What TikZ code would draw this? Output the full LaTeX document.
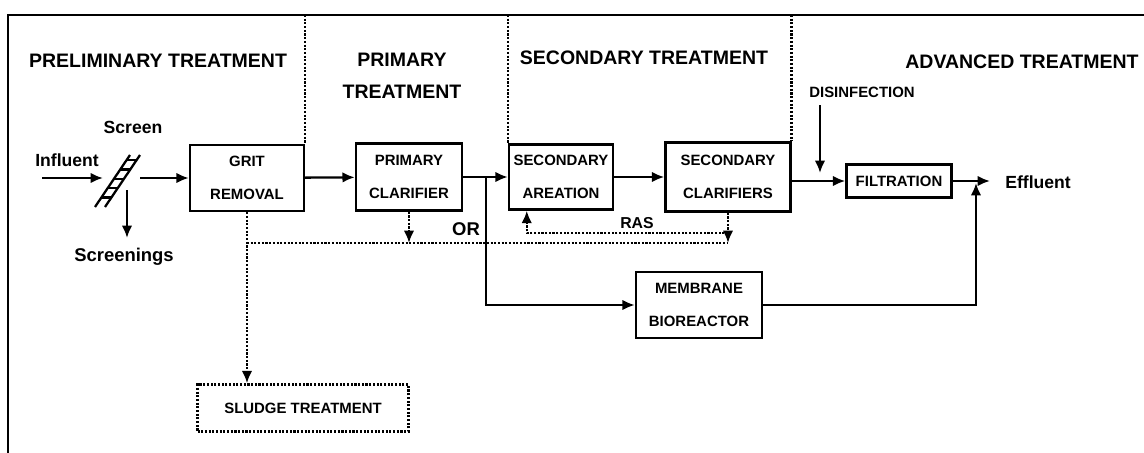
\documentclass[tikz,border=0pt]{standalone}
\usepackage{fontspec}
\setmainfont{Liberation Sans}
\usetikzlibrary{arrows.meta}

\begin{document}
\begin{tikzpicture}[x=0.02cm, y=-0.02cm,
    box/.style={draw, line width=1.4pt, align=center, inner sep=0pt,
        font=\bfseries\fontsize{8.5}{18.5}\selectfont},
    flow/.style={line width=1.3pt, -{Latex[length=7pt,width=6pt]}},
    dotline/.style={line width=1.4pt, dash pattern=on 1.2pt off 0.9pt},
    title/.style={font=\bfseries\fontsize{11.1}{18.2}\selectfont, align=center},
    lbl/.style={font=\bfseries\fontsize{10}{12}\selectfont, inner sep=0pt}]
    \useasboundingbox (0,0) rectangle (1144,453);

    % Marco
    \coordinate (top) at (8,15);
    \draw[line width=1.5pt] (1144,15) -- (top) -- (8,453);

    % Cajas
    \node[box, minimum width=2.28cm, minimum height=1.32cm] (grit) at (247,178) {GRIT\\REMOVAL};
    \node[box, minimum width=2.12cm, minimum height=1.34cm] (prim) at (409,177) {PRIMARY\\CLARIFIER};
    \node[box, minimum width=2.08cm, minimum height=1.30cm] (aer) at (561,177) {SECONDARY\\AREATION};
    \node[box, minimum width=2.50cm, minimum height=1.38cm] (clar) at (728,177) {SECONDARY\\CLARIFIERS};
    \node[box, minimum width=2.10cm, minimum height=0.66cm] (filt) at (899,181) {FILTRATION};
    \node[box, minimum width=2.52cm, minimum height=1.32cm] (mbr) at (699,305) {MEMBRANE\\BIOREACTOR};
    \node[box, dotline, minimum width=4.22cm, minimum height=0.94cm] (sludge) at (303,408) {SLUDGE TREATMENT};

    % Divisiones
    \draw[dotline] (grit.north east |- top) -- (grit.north east);
    \draw[dotline] (aer.north west |- top) -- (aer.north west);
    \draw[dotline] (clar.north east |- top) -- (clar.north east);

    % Titulos
    \node[title] (tprel) at (158,61) {PRELIMINARY TREATMENT};
    \node[title] (tprim) at (402,76) {PRIMARY\\TREATMENT};
    \node[title] (tsec) at (644,58) {SECONDARY TREATMENT};
    \node[title] (tadv) at (1022,62) {ADVANCED TREATMENT};

    % Rejilla
    \draw[line width=1.3pt] (95,207) -- (130,155);
    \draw[line width=1.3pt] (105,207) -- (140,155);
    \foreach \t in {0.18,0.36,0.54,0.72,0.9}
        \draw[line width=1.3pt] (95+35*\t,207-52*\t) -- (105+35*\t,207-52*\t);
    \node[lbl] (screen) at (133,127) {Screen};
    \node[lbl] (infl) at (67,160) {Influent};
    \node[lbl, font=\bfseries\fontsize{10.5}{12}\selectfont] (scrn) at (124,257) {Screenings};
    \coordinate (in0) at (42,178);
    \coordinate (in1) at (103,178);
    \coordinate (scr0) at (127,190);
    \coordinate (scr1) at (127,238);
    \coordinate (out0) at (140,178);
    \draw[flow] (in0) -- (in1);
    \draw[flow] (scr0) -- (scr1);
    \draw[flow] (out0) -- (grit.west);

    % Linea principal
    \coordinate (jor) at (486,177);
    \draw[flow] (grit) -- (prim);
    \draw[flow] (prim) -- (aer);
    \draw[flow] (aer) -- (clar);
    \draw[flow] (jor) |- (mbr.west);
    \draw[flow] (clar.east |- filt) -- (filt.west);
    \node[lbl, font=\bfseries\fontsize{10.5}{12}\selectfont] (or) at (466,229) {OR};

    % Desinfeccion y efluente
    \node[lbl, font=\bfseries\fontsize{8.5}{10}\selectfont] (dis) at (862,92) {DISINFECTION};
    \coordinate (dis0) at (820,105);
    \coordinate (dis1) at (820,173);
    \draw[flow] (dis0) -- (dis1);
    \node[lbl, anchor=west] (eff) at (1005,182) {Effluent};
    \draw[flow, shorten >=0.3cm] (filt.east) -- (filt.east -| eff.west);
    \coordinate (jeff) at (976,183);
    \draw[flow] (mbr.east) -| (jeff);

    % Lodos y RAS
    \coordinate (sl) at (247,243);
    \coordinate (ras) at (728,233);
    \draw[dotline, -{Latex[length=7pt,width=6pt]}] (grit.south) -- (grit.south |- sludge.north);
    \draw[dotline] (grit.south |- sl) -- (clar.south |- sl);
    \draw[dotline, -{Latex[length=7pt,width=6pt]}] (prim.south) -- (prim.south |- sl);
    \draw[dotline, -{Latex[length=7pt,width=6pt]}] (clar.south) -- (clar.south |- sl);
    \draw[dotline, -{Latex[length=7pt,width=6pt]}] (ras) -| ([xshift=0.38cm]aer.south west);
    \node[lbl, font=\bfseries\fontsize{9}{10}\selectfont] (rasl) at (637,223) {RAS};
\end{tikzpicture}
\end{document}
